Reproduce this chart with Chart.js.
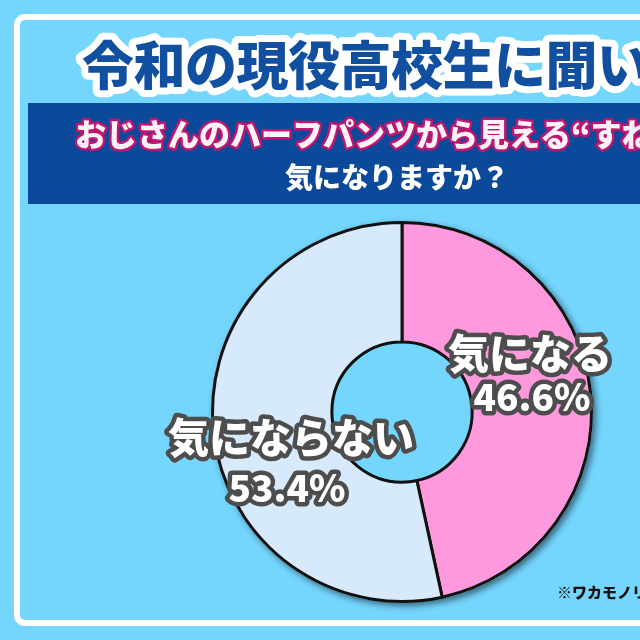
<!DOCTYPE html>
<html>
<head>
<meta charset="utf-8">
<script src="https://cdn.jsdelivr.net/npm/chart.js@4"></script>
<style>
  html, body { margin: 0; padding: 0; background: #74d5fd; }
  canvas { display: block; }
</style>
</head>
<body>
<canvas id="surveyChart" width="640" height="640"></canvas>
<script>
const answers = ['気になる', '気にならない'];
const shares = [46.6, 53.4];
const sliceColors = ['#ff99dd', '#d6eafc'];

const titleText = '令和の現役高校生に聞いた！';
const questionLine1 = 'おじさんのハーフパンツから見える“すね毛”、';
const questionLine2 = '気になりますか？';
const sourceNote = '※ワカモノリサーチ調べ';

const JP = '"Noto Sans CJK JP", "Noto Sans", sans-serif';
const bgBlue = '#74d5fd';

// label block offsets from each slice centroid: [name dx, name dy, pct dx, pct dy]
const labelOffsets = [
  [-1, -45, 1, -1],
  [18, 12, 14, 62]
];

function outlinedText(ctx, text, x, y, font, fill, stroke, width) {
  ctx.font = font;
  ctx.lineJoin = 'round';
  if (stroke) {
    ctx.strokeStyle = stroke;
    ctx.lineWidth = width;
    ctx.strokeText(text, x, y);
  }
  ctx.fillStyle = fill;
  ctx.fillText(text, x, y);
}

const posterPlugin = {
  id: 'poster',
  beforeDraw(chart) {
    const ctx = chart.ctx;
    ctx.save();
    ctx.fillStyle = bgBlue;
    ctx.fillRect(0, 0, chart.width, chart.height);

    // white framed panel
    ctx.strokeStyle = '#ffffff';
    ctx.lineWidth = 6;
    ctx.beginPath();
    ctx.roundRect(17, 17, 900, 606, 8);
    ctx.stroke();

    // dark band behind the question
    ctx.fillStyle = '#0b4a9b';
    ctx.fillRect(28, 103, 900, 101);

    ctx.textBaseline = 'middle';
    ctx.textAlign = 'left';
    ctx.letterSpacing = '-0.5px';
    outlinedText(ctx, titleText, 82, 65, '900 52px ' + JP, '#1150a0', '#ffffff', 14);
    ctx.letterSpacing = '0px';
    outlinedText(ctx, questionLine1, 75, 134, '900 31px ' + JP, '#fff2f9', '#c0166e', 5);
    ctx.textAlign = 'center';
    outlinedText(ctx, questionLine2, 397, 177, '900 28px ' + JP, '#ffffff', null, 0);
    ctx.restore();
  },
  beforeDatasetsDraw(chart) {
    const arc = chart.getDatasetMeta(0).data[0];
    if (!arc) return;
    const ctx = chart.ctx;
    ctx.save();
    ctx.shadowColor = 'rgba(0,0,0,0.5)';
    ctx.shadowBlur = 6;
    ctx.shadowOffsetX = 3;
    ctx.shadowOffsetY = 3;
    ctx.fillStyle = bgBlue;
    ctx.beginPath();
    ctx.arc(arc.x, arc.y, arc.outerRadius + 1.5, 0, Math.PI * 2);
    ctx.fill();
    ctx.restore();
  },
  afterDatasetsDraw(chart) {
    const ctx = chart.ctx;
    const meta = chart.getDatasetMeta(0);
    ctx.save();
    ctx.textAlign = 'center';
    ctx.textBaseline = 'middle';
    meta.data.forEach((el, i) => {
      const p = el.tooltipPosition();
      const o = labelOffsets[i];
      outlinedText(ctx, answers[i], p.x + o[0], p.y + o[1], '900 41px ' + JP, '#ffffff', '#4d4d4d', 9);
      outlinedText(ctx, shares[i].toFixed(1) + '%', p.x + o[2], p.y + o[3], '900 37px ' + JP, '#ffffff', '#4d4d4d', 9);
    });
    ctx.textAlign = 'left';
    outlinedText(ctx, sourceNote, 557, 592, '900 15px ' + JP, '#111111', null, 0);
    ctx.restore();
  }
};

const ctx = document.getElementById('surveyChart').getContext('2d');
const surveyChart = new Chart(ctx, {
  type: 'doughnut',
  data: {
    labels: answers,
    datasets: [{
      data: shares,
      backgroundColor: sliceColors,
      borderColor: '#111111',
      borderWidth: 3
    }]
  },
  options: {
    responsive: false,
    animation: false,
    cutout: '37%',
    layout: {
      padding: { left: 211, right: 47, top: 221, bottom: 37 }
    },
    plugins: {
      legend: { display: false },
      tooltip: { enabled: false }
    }
  },
  plugins: [posterPlugin]
});
</script>
</body>
</html>
